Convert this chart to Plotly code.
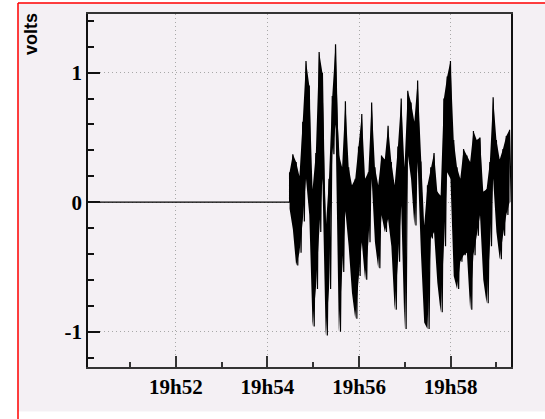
import plotly.graph_objects as go
import pandas as pd

# quiet period (flat line)
quiet_times = ["2024-01-01 19:49:00", "2024-01-01 19:54:29"]
quiet_values = [0.0, 0.0]

# active period: upper / lower swing of each short chunk of the trace
active_start = "2024-01-01 19:54:29"
sample_step_s = 2.15
chunk_high = [0.23, 0.37, 0.31, 0.20, 0.62, 1.09, 0.90, 0.10, 0.38, 1.16, 1.00, -0.21, 0.18, 0.82, 1.22, 0.37,
              0.27, 0.78, 0.27, 0.13, 0.18, 0.43, 0.68, 0.18, 0.23, 0.77, 0.27, 0.13, 0.36, 0.33, 0.59, 0.31,
              0.13, 0.43, 0.80, 0.27, 0.86, 0.77, 0.62, 0.94, 0.31, -0.18, 0.13, 0.27, 0.38, 0.08, 0.05, 0.80, 0.97,
              1.09, 0.48, 0.27, 0.18, 0.41, 0.36, 0.31, 0.55, 0.48, 0.50, 0.08, 0.10, 0.31, 0.81, 0.48, 0.33, 0.41, 0.51, 0.56]
chunk_low = [-0.05, -0.21, -0.49, -0.39, -0.15, 0.18, -0.10, -0.96, -0.67, -0.23, 0.18, -1.03, -0.67, 0.37, 0.60, -1.00,
             -0.54, -0.07, -0.34, -0.70, -0.90, -0.57, -0.31, -0.60, -0.31, 0.18, -0.31, -0.51, -0.10, -0.23, -0.13, -0.34,
             -0.83, -0.46, -0.03, -0.98, 0.37, 0.18, -0.18, 0.31, -0.39, -0.93, -0.98, -0.28, -0.23, -0.62, -0.85, -0.34, 0.23,
             0.18, -0.57, -0.67, -0.46, -0.41, -0.39, -0.83, -0.41, -0.26, -0.10, -0.60, -0.78, -0.34, 0.18, -0.23, -0.44, -0.26, -0.10, 0.00]

active_values = []
for h, l in zip(chunk_high, chunk_low):
    active_values += [h, l]
active_times = pd.date_range(active_start, periods=len(active_values),
                             freq=pd.Timedelta(seconds=sample_step_s))
chunk_times = active_times[::2]

x_range = ["2024-01-01 19:50:05", "2024-01-01 19:59:19"]
y_range = [-1.273, 1.453]
x_ticks = ["2024-01-01 19:52", "2024-01-01 19:54", "2024-01-01 19:56", "2024-01-01 19:58"]
x_ticktext = ["19h52", "19h54", "19h56", "19h58"]

W, H = 545, 419
L, R, T, B = 88, 34, 14, 52
pw, ph = W - L - R, H - T - B
def px(x): return (x - L) / pw
def py(y): return (H - B - y) / ph

bg = "#f4f0f4"
fig = go.Figure()
# dense envelope of the fast oscillation
fig.add_trace(go.Scatter(x=chunk_times, y=chunk_low, mode="lines", line=dict(width=0, color="black"),
                         hoverinfo="skip"))
fig.add_trace(go.Scatter(x=chunk_times, y=chunk_high, mode="lines", line=dict(width=0, color="black"),
                         fill="tonexty", fillcolor="black", hoverinfo="skip"))
fig.add_trace(go.Scatter(x=quiet_times + list(active_times), y=quiet_values + active_values,
                         mode="lines", line=dict(color="black", width=1.2), hoverinfo="skip"))

tickfont = dict(family="Liberation Serif", size=21, color="black", weight="bold")
fig.update_layout(
    width=W, height=H, margin=dict(l=L, r=R, t=T, b=B),
    paper_bgcolor=bg, plot_bgcolor=bg, showlegend=False,
    xaxis=dict(type="date", range=x_range, tickvals=x_ticks, ticktext=x_ticktext,
               ticks="inside", ticklen=11, tickwidth=1.5, tickcolor="#333",
               minor=dict(dtick=60000, ticks="inside", ticklen=5, tickcolor="#333", showgrid=False),
               showgrid=True, gridcolor="#a8a8a8", griddash="1px,3px", gridwidth=1,
               showline=True, linecolor="#333", linewidth=1.5, mirror=True,
               tickfont=tickfont, zeroline=False),
    yaxis=dict(range=y_range, tickvals=[-1, 0, 1], ticktext=["-1", "0", "1"],
               ticks="inside", ticklen=12, tickwidth=1.5, tickcolor="#111",
               minor=dict(dtick=0.2, ticks="inside", ticklen=6, tickcolor="#111", showgrid=False),
               showgrid=True, gridcolor="#a8a8a8", griddash="1px,3px", gridwidth=1,
               showline=True, linecolor="#111", linewidth=1.5, mirror=True,
               tickfont=tickfont, zeroline=False),
    shapes=[
        dict(type="rect", xref="paper", yref="paper", x0=px(0), x1=px(17.5), y0=py(H), y1=py(0),
             fillcolor="white", line=dict(width=0), layer="below"),
        dict(type="rect", xref="paper", yref="paper", x0=px(0), x1=px(W), y0=py(2.5), y1=py(0),
             fillcolor="white", line=dict(width=0), layer="below"),
        dict(type="rect", xref="paper", yref="paper", x0=px(0), x1=px(W), y0=py(H), y1=py(411.5),
             fillcolor="white", line=dict(width=0), layer="below"),
        dict(type="line", xref="paper", yref="paper", x0=px(18), x1=px(18), y0=py(H), y1=py(3),
             line=dict(color="red", width=1.5)),
        dict(type="line", xref="paper", yref="paper", x0=px(18), x1=px(W), y0=py(3), y1=py(3),
             line=dict(color="red", width=1.5)),
    ],
    annotations=[dict(text="volts", textangle=-90, xref="paper", yref="paper",
                      x=px(31), y=py(11), xanchor="center", yanchor="top", showarrow=False,
                      font=dict(family="Liberation Sans", size=18, color="black", weight="bold"))],
)
fig.write_html("out.html", config={"displayModeBar": False},
               post_script="document.body.style.margin='0';document.body.style.overflow='hidden';")
